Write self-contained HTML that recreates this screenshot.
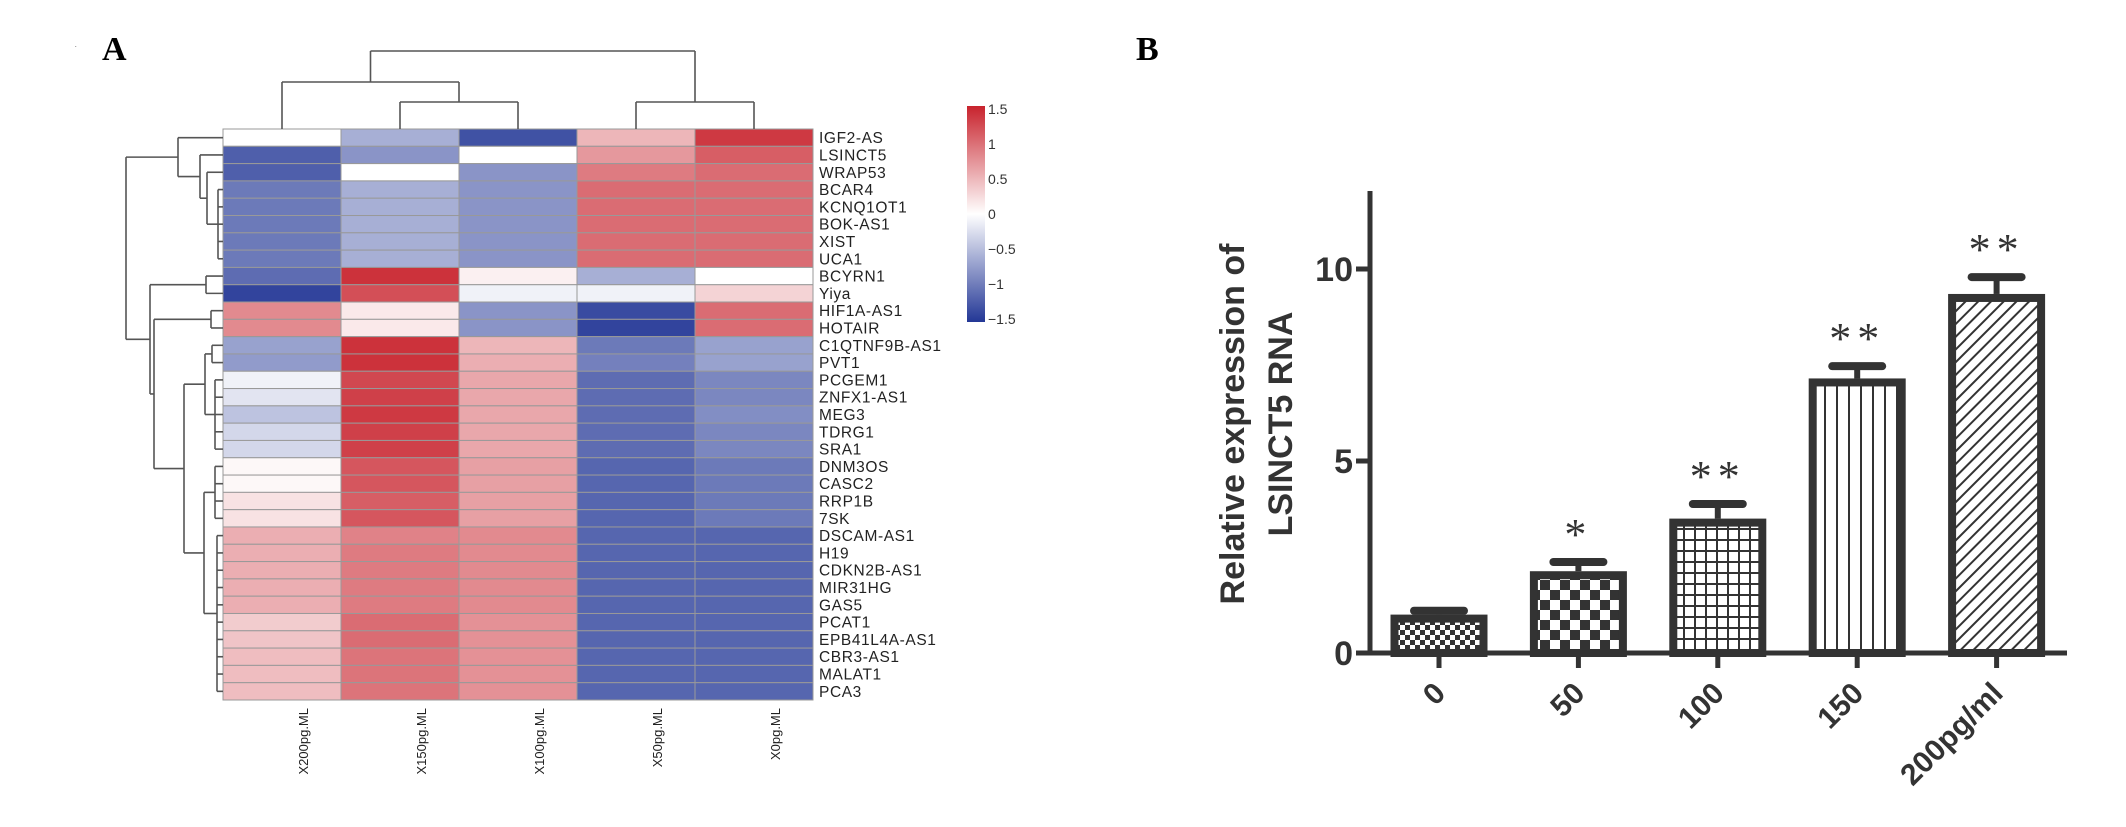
<!DOCTYPE html>
<html><head><meta charset="utf-8"><style>
html,body{margin:0;padding:0;background:#fff;}
svg{display:block;}
text{font-family:"Liberation Sans",Arial,sans-serif;}
</style></head><body>
<svg id="fig" width="2126" height="827" viewBox="0 0 2126 827" xmlns="http://www.w3.org/2000/svg">
<defs>
<pattern id="p0" width="10" height="10" patternUnits="userSpaceOnUse"><rect width="10" height="10" fill="#fff"/><rect width="5" height="5" fill="#333"/><rect x="5" y="5" width="5" height="5" fill="#333"/></pattern>
<pattern id="p1" width="20" height="20" patternUnits="userSpaceOnUse"><rect width="20" height="20" fill="#fff"/><rect width="10" height="10" fill="#333"/><rect x="10" y="10" width="10" height="10" fill="#333"/></pattern>
<pattern id="p2" width="11" height="11" patternUnits="userSpaceOnUse"><rect width="11" height="11" fill="#fff"/><rect width="2" height="11" fill="#333"/><rect width="11" height="2" fill="#333"/></pattern>
<pattern id="p3" width="12" height="12" patternUnits="userSpaceOnUse"><rect width="12" height="12" fill="#fff"/><rect width="2" height="12" fill="#333"/></pattern>
<pattern id="p4" width="9" height="9" patternUnits="userSpaceOnUse" patternTransform="rotate(45)"><rect width="9" height="9" fill="#fff"/><rect width="2" height="9" fill="#333"/></pattern>
<linearGradient id="cbar" x1="0" y1="0" x2="0" y2="1">
<stop offset="0" stop-color="rgb(200,35,45)"/><stop offset="0.5" stop-color="#fff"/><stop offset="1" stop-color="rgb(35,55,150)"/>
</linearGradient>
</defs>
<text x="75" y="47" font-size="6" fill="#000">.</text>
<text x="102" y="60" style="font-family:'Liberation Serif',serif;font-weight:bold;font-size:34px" fill="#000">A</text>
<text x="1136" y="60" style="font-family:'Liberation Serif',serif;font-weight:bold;font-size:34px" fill="#000">B</text>
<g id="heat"></g>
<g id="bars"></g>
</svg>
<script>
const genes = ["IGF2-AS","LSINCT5","WRAP53","BCAR4","KCNQ1OT1","BOK-AS1","XIST","UCA1","BCYRN1","Yiya","HIF1A-AS1","HOTAIR","C1QTNF9B-AS1","PVT1","PCGEM1","ZNFX1-AS1","MEG3","TDRG1","SRA1","DNM3OS","CASC2","RRP1B","7SK","DSCAM-AS1","H19","CDKN2B-AS1","MIR31HG","GAS5","PCAT1","EPB41L4A-AS1","CBR3-AS1","MALAT1","PCA3"];
const samples = ["X200pg.ML","X150pg.ML","X100pg.ML","X50pg.ML","X0pg.ML"];
const heatValues = [
[0,-0.6,-1.3,0.5,1.35],
[-1.2,-0.8,0,0.7,1.1],
[-1.2,0,-0.8,0.9,1.0],
[-1.0,-0.6,-0.8,1.0,1.0],
[-1.0,-0.6,-0.8,1.0,1.0],
[-1.0,-0.6,-0.8,1.0,1.0],
[-1.0,-0.6,-0.8,1.0,1.0],
[-1.0,-0.6,-0.8,1.0,1.0],
[-1.1,1.4,0.1,-0.6,0],
[-1.4,1.2,-0.1,-0.1,0.3],
[0.8,0.15,-0.8,-1.35,1.0],
[0.8,0.15,-0.8,-1.4,1.0],
[-0.7,1.4,0.5,-1.0,-0.7],
[-0.75,1.4,0.55,-0.95,-0.7],
[-0.1,1.25,0.6,-1.1,-0.9],
[-0.2,1.3,0.6,-1.1,-0.9],
[-0.45,1.35,0.6,-1.1,-0.85],
[-0.3,1.3,0.6,-1.1,-0.9],
[-0.3,1.3,0.6,-1.1,-0.9],
[0.05,1.15,0.65,-1.15,-1.0],
[0.05,1.15,0.65,-1.15,-1.0],
[0.2,1.1,0.65,-1.15,-1.0],
[0.2,1.15,0.65,-1.15,-1.0],
[0.55,0.85,0.8,-1.15,-1.15],
[0.55,0.9,0.8,-1.15,-1.15],
[0.55,0.9,0.8,-1.15,-1.15],
[0.55,0.9,0.8,-1.15,-1.15],
[0.55,0.9,0.8,-1.15,-1.15],
[0.35,1.0,0.75,-1.15,-1.15],
[0.4,1.0,0.75,-1.15,-1.15],
[0.45,0.95,0.75,-1.15,-1.15],
[0.45,0.95,0.75,-1.15,-1.15],
[0.45,0.95,0.75,-1.15,-1.15]];
const legendTicks = [1.5,1,0.5,0,-0.5,-1,-1.5];
const legendTickLabels = ["1.5","1","0.5","0","\u22120.5","\u22121","\u22121.5"];
const doseLabels = ["0","50","100","150","200pg/ml"];
const expression = [1.0,2.13,3.5,7.15,9.35];
const errorUpper = [1.1,2.37,3.88,7.47,9.79];
const significance = ["","*","**","**","**"];
const yTicks = [0,5,10];
const patterns = ["p0","p1","p2","p3","p4"];

const NS="http://www.w3.org/2000/svg";
function mk(tag,attrs,parent,txt){const e=document.createElementNS(NS,tag);for(const k in attrs)e.setAttribute(k,attrs[k]);if(txt!==undefined)e.textContent=txt;parent.appendChild(e);return e;}

// ---------- heatmap ----------
const H=document.getElementById('heat');
const hx0=223,hx1=813,hy0=129,hy1=700;
const cw=(hx1-hx0)/samples.length, rh=(hy1-hy0)/genes.length;
const colX=i=>hx0+i*cw, rowY=j=>hy0+j*rh;
function colorOf(v){
  const t=Math.max(-1,Math.min(1,v/1.5));
  const red=[200,35,45],blue=[35,55,150];
  const c=t>=0?red:blue,a=Math.abs(t);
  const m=k=>Math.round(255+(c[k]-255)*a);
  return `rgb(${m(0)},${m(1)},${m(2)})`;
}
heatValues.forEach((row,j)=>row.forEach((v,i)=>{
  const r=mk('rect',{x:colX(i),y:rowY(j),width:cw,height:rh,fill:colorOf(v),stroke:'#999','stroke-width':1},H);
  
  
}));
genes.forEach((g,j)=>{
  const t=mk('text',{x:hx1+6,y:rowY(j)+rh/2+5.5,'font-size':15.5,fill:'#222','letter-spacing':'0.6'},H,g);
  
  
});
samples.forEach((s,i)=>{
  const cx=colX(i)+cw/2+26;
  const t=mk('text',{x:cx,y:708,'font-size':13,fill:'#222','text-anchor':'end',transform:`rotate(-90 ${cx} 708)`},H,s);
  
  
});
const cb=mk('rect',{x:967,y:106,width:18,height:216,fill:'url(#cbar)'},H);


const legY=v=>109+(1.5-v)/3*210;
legendTicks.forEach((v,k)=>{
  const t=mk('text',{x:988,y:legY(v)+5,'font-size':14,fill:'#333'},H,legendTickLabels[k]);
  
  
});
const dg=mk('g',{stroke:'#555','stroke-width':1.6,fill:'none'},H);


function line(x1,y1,x2,y2){mk('line',{x1,y1,x2,y2},dg);}
function range(a,b){const r=[];for(let i=a;i<=b;i++)r.push(i);return r;}
const rowTree={h:126,c:[
 {h:178,c:[0,{h:200,c:[1,{h:207,c:[2,{h:218,c:range(3,7)}]}]}]},
 {h:150,c:[{h:206,c:[8,9]},{h:154,c:[{h:211,c:[10,11]},
   {h:184,c:[{h:205,c:[{h:212,c:[12,13]},{h:215,c:range(14,18)}]},
             {h:204,c:[{h:215,c:range(19,22)},{h:217,c:range(23,32)}]}]}]}]}]};
function drawRow(n){
  if(typeof n==='number') return {y:rowY(n)+rh/2,x:hx0};
  const ch=n.c.map(drawRow);
  ch.forEach(p=>line(n.h,p.y,p.x,p.y));
  const ys=ch.map(p=>p.y);
  line(n.h,Math.min(...ys),n.h,Math.max(...ys));
  return {y:(Math.min(...ys)+Math.max(...ys))/2,x:n.h};
}
drawRow(rowTree);
const colTree={h:51,c:[{h:82,c:[0,{h:102,c:[1,2]}]},{h:102,c:[3,4]}]};
function drawCol(n){
  if(typeof n==='number') return {x:colX(n)+cw/2,y:hy0};
  const ch=n.c.map(drawCol);
  ch.forEach(p=>line(p.x,n.h,p.x,p.y));
  const xs=ch.map(p=>p.x);
  line(Math.min(...xs),n.h,Math.max(...xs),n.h);
  return {x:(Math.min(...xs)+Math.max(...xs))/2,y:n.h};
}
drawCol(colTree);

// ---------- bar chart ----------
const B=document.getElementById('bars');
const ax=1370, y0=653, unit=(653-269)/10;
const yS=v=>y0-v*unit;
const step=139.4, bw=97, firstC=1439;
const xS=i=>firstC+i*step;
const ink='#333';
expression.forEach((v,i)=>{
  const cx=xS(i);
  const e=mk('line',{x1:cx,y1:yS(v),x2:cx,y2:yS(errorUpper[i]),stroke:ink,'stroke-width':6},B);
  
  
  const cap=mk('line',{x1:cx-25,y1:yS(errorUpper[i]),x2:cx+25,y2:yS(errorUpper[i]),stroke:ink,'stroke-width':8,'stroke-linecap':'round'},B);
  
  
  const r=mk('rect',{x:cx-bw/2+4,y:yS(v)+4,width:bw-8,height:y0-yS(v)-4,fill:`url(#${patterns[i]})`,stroke:ink,'stroke-width':8},B);
  
  
  if(significance[i]){
    const s=mk('text',{x:cx,y:yS(errorUpper[i])-13,style:"font-family:'Liberation Serif',serif;font-size:44px",fill:ink,'text-anchor':'middle','letter-spacing':'6'},B,significance[i]);
    
    
  }
  const tk=mk('line',{x1:cx,y1:y0,x2:cx,y2:y0+15,stroke:ink,'stroke-width':5},B);
  
  
  const lx=cx+8, ly=y0+42;
  const t=mk('text',{x:lx,y:ly,'font-size':30,'font-weight':'bold',fill:ink,'text-anchor':'end',transform:`rotate(-45 ${lx} ${ly})`},B,doseLabels[i]);
  
  
});
const yax=mk('line',{x1:ax,y1:191,x2:ax,y2:y0+2,stroke:ink,'stroke-width':5},B);


const xax=mk('line',{x1:ax-14,y1:y0,x2:2067,y2:y0,stroke:ink,'stroke-width':5},B);


yTicks.forEach(v=>{
  const tk=mk('line',{x1:ax-14,y1:yS(v),x2:ax,y2:yS(v),stroke:ink,'stroke-width':5},B);
  
  
  const t=mk('text',{x:ax-17,y:yS(v)+12,'font-size':34,'font-weight':'bold',fill:ink,'text-anchor':'end'},B,String(v));
  
  
});
const t1=mk('text',{x:1244,y:424,'font-size':34,'font-weight':'bold',fill:ink,'text-anchor':'middle',transform:'rotate(-90 1244 424)'},B,'Relative expression of');


const t2=mk('text',{x:1292,y:424,'font-size':34,'font-weight':'bold',fill:ink,'text-anchor':'middle',transform:'rotate(-90 1292 424)'},B,'LSINCT5 RNA');


</script>
</body></html>
